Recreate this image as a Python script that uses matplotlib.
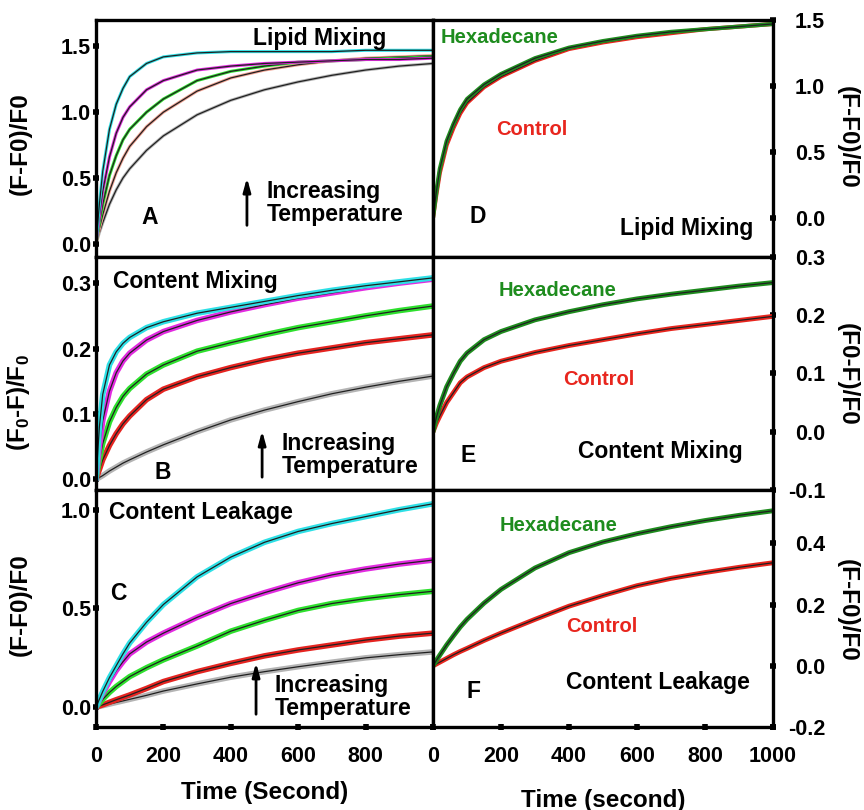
import matplotlib
matplotlib.use("Agg")
import matplotlib.pyplot as plt

plt.rcParams['font.family'] = ['Liberation Sans', 'DejaVu Sans']
plt.rcParams['font.weight'] = 'bold'
plt.rcParams['mathtext.fontset'] = 'custom'
plt.rcParams['mathtext.rm'] = 'Liberation Sans:bold'
plt.rcParams['mathtext.bf'] = 'Liberation Sans:bold'

# time points (s)
t = [0, 10, 20, 40, 60, 80, 100, 150, 200, 300, 400, 500, 600, 700, 800, 900, 1000]

# panel A: lipid mixing vs temperature
a_cyan = [0, 0.30, 0.55, 0.87, 1.06, 1.18, 1.27, 1.37, 1.42, 1.45, 1.46, 1.46, 1.46, 1.46, 1.47, 1.47, 1.47]
a_mag = [0, 0.21, 0.40, 0.66, 0.84, 0.96, 1.04, 1.17, 1.24, 1.32, 1.35, 1.37, 1.38, 1.39, 1.40, 1.40, 1.41]
a_grn = [0, 0.16, 0.30, 0.52, 0.67, 0.79, 0.87, 1.00, 1.10, 1.24, 1.31, 1.35, 1.38, 1.39, 1.40, 1.41, 1.42]
a_red = [0, 0.115, 0.22, 0.40, 0.54, 0.65, 0.74, 0.89, 1.00, 1.16, 1.26, 1.32, 1.36, 1.39, 1.41, 1.42, 1.43]
a_gry = [0, 0.085, 0.16, 0.30, 0.41, 0.50, 0.57, 0.71, 0.82, 0.98, 1.09, 1.17, 1.23, 1.28, 1.32, 1.35, 1.37]

# panel B: content mixing vs temperature
b_cyan = [0, 0.08, 0.13, 0.175, 0.195, 0.208, 0.217, 0.232, 0.241, 0.254, 0.263, 0.272, 0.281, 0.289, 0.296, 0.302, 0.308]
b_mag = [0, 0.05, 0.09, 0.135, 0.163, 0.181, 0.193, 0.213, 0.226, 0.243, 0.256, 0.267, 0.277, 0.285, 0.293, 0.300, 0.306]
b_grn = [0, 0.03, 0.055, 0.088, 0.11, 0.127, 0.139, 0.161, 0.175, 0.196, 0.209, 0.221, 0.232, 0.241, 0.25, 0.258, 0.265]
b_red = [0, 0.015, 0.03, 0.052, 0.07, 0.085, 0.097, 0.122, 0.138, 0.157, 0.171, 0.183, 0.193, 0.201, 0.209, 0.215, 0.221]
b_gry = [0, 0.003, 0.006, 0.013, 0.019, 0.025, 0.03, 0.042, 0.053, 0.073, 0.091, 0.106, 0.119, 0.131, 0.141, 0.150, 0.158]

# panel C: content leakage vs temperature
c_cyan = [0, 0.04, 0.08, 0.15, 0.21, 0.27, 0.325, 0.43, 0.52, 0.66, 0.76, 0.835, 0.89, 0.93, 0.965, 1.0, 1.03]
c_mag = [0, 0.036, 0.07, 0.13, 0.185, 0.23, 0.27, 0.33, 0.375, 0.455, 0.525, 0.58, 0.63, 0.67, 0.70, 0.725, 0.745]
c_grn = [0, 0.02, 0.04, 0.075, 0.105, 0.13, 0.155, 0.2, 0.24, 0.31, 0.385, 0.44, 0.49, 0.525, 0.55, 0.57, 0.587]
c_red = [0, 0.006, 0.012, 0.025, 0.038, 0.05, 0.062, 0.095, 0.13, 0.18, 0.222, 0.26, 0.29, 0.315, 0.34, 0.36, 0.375]
c_gry = [0, 0.004, 0.008, 0.016, 0.024, 0.032, 0.04, 0.06, 0.082, 0.118, 0.152, 0.18, 0.205, 0.228, 0.25, 0.266, 0.28]

# panels D-F: hexadecane vs control
d_hex = [0, 0.20, 0.37, 0.58, 0.71, 0.82, 0.90, 1.01, 1.09, 1.21, 1.29, 1.34, 1.38, 1.41, 1.43, 1.45, 1.47]
d_ctl = [0, 0.18, 0.34, 0.55, 0.68, 0.79, 0.87, 0.99, 1.07, 1.19, 1.28, 1.33, 1.37, 1.40, 1.43, 1.45, 1.47]
e_hex = [0, 0.025, 0.045, 0.077, 0.1, 0.121, 0.135, 0.158, 0.172, 0.192, 0.206, 0.218, 0.228, 0.236, 0.243, 0.25, 0.256]
e_ctl = [0, 0.015, 0.027, 0.05, 0.067, 0.084, 0.094, 0.11, 0.121, 0.136, 0.148, 0.158, 0.168, 0.177, 0.184, 0.191, 0.198]
f_hex = [0, 0.018, 0.035, 0.068, 0.098, 0.127, 0.152, 0.205, 0.25, 0.32, 0.37, 0.405, 0.432, 0.455, 0.475, 0.492, 0.507]
f_ctl = [0, 0.006, 0.012, 0.024, 0.036, 0.047, 0.057, 0.083, 0.107, 0.152, 0.195, 0.23, 0.262, 0.286, 0.305, 0.322, 0.337]

CY, MG, GR, RD, GY = '#2ee0e6', '#e22be0', '#2ee02e', '#e52420', '#b4b4b4'
HX, CT = '#1e8c1e', '#e8261e'

fig = plt.figure(figsize=(8.64, 8.10), dpi=100)
L, R = [0.1111, 0.390], [0.5012, 0.3935]
rows = [[0.6827, 0.2926], [0.3951, 0.2877], [0.1025, 0.2926]]
axA = fig.add_axes([L[0], rows[0][0], L[1], rows[0][1]])
axB = fig.add_axes([L[0], rows[1][0], L[1], rows[1][1]])
axC = fig.add_axes([L[0], rows[2][0], L[1], rows[2][1]])
axD = fig.add_axes([R[0], rows[0][0], R[1], rows[0][1]])
axE = fig.add_axes([R[0], rows[1][0], R[1], rows[1][1]])
axF = fig.add_axes([R[0], rows[2][0], R[1], rows[2][1]])


def curves(ax, ys, cols, lw):
    for y, c in zip(ys, cols):
        ax.plot(t, y, color=c, lw=lw, solid_capstyle='round')
        ax.plot(t, y, color='#202020', lw=0.9)


curves(axA, [a_gry, a_red, a_grn, a_mag, a_cyan], [GY, '#f0a090', GR, MG, CY], 2.2)
curves(axB, [b_gry, b_red, b_grn, b_mag, b_cyan], [GY, RD, GR, MG, CY], 4)
curves(axC, [c_gry, c_red, c_grn, c_mag, c_cyan], [GY, RD, GR, MG, CY], 4)
curves(axD, [d_ctl, d_hex], [CT, HX], 3)
curves(axE, [e_ctl, e_hex], [CT, HX], 3.5)
curves(axF, [f_ctl, f_hex], [CT, HX], 3.5)

lims = {axA: (-0.1, 1.7), axB: (-0.016, 0.34), axC: (-0.1, 1.1),
        axD: (-0.3, 1.5), axE: (-0.1, 0.3), axF: (-0.2, 0.575)}
yt = {axA: [0, 0.5, 1.0, 1.5], axB: [0, 0.1, 0.2, 0.3], axC: [0, 0.5, 1.0],
      axD: [0, 0.5, 1.0, 1.5], axE: [-0.1, 0, 0.1, 0.2, 0.3], axF: [-0.2, 0, 0.2, 0.4]}

for ax in lims:
    ax.set_xlim(0, 1000)
    ax.set_ylim(*lims[ax])
    ax.set_yticks(yt[ax])
    ax.set_yticklabels(['%.1f' % v for v in yt[ax]])
    for s in ax.spines.values():
        s.set_linewidth(2.4)
    ax.tick_params(direction='inout', length=5, width=4, labelsize=15.5)
    ax.tick_params(axis='y', pad=1)
    ax.tick_params(axis='x', pad=11)
    ax.set_xticks([0, 200, 400, 600, 800, 1000])
    if ax not in (axC, axF):
        ax.tick_params(axis='x', bottom=False, labelbottom=False)
    for lab in ax.get_xticklabels() + ax.get_yticklabels():
        lab.set_fontweight('bold')

axC.set_xticklabels(['0', '200', '400', '600', '800', ''])
axF.set_xticklabels(['0', '200', '400', '600', '800', '1000'])
for ax in (axD, axE, axF):
    ax.yaxis.tick_right()
    ax.tick_params(axis='y', pad=35)
    for lab in ax.get_yticklabels():
        lab.set_horizontalalignment('right')

lkw = dict(fontsize=17.5, fontweight='bold')
axA.set_ylabel('(F-F0)/F0', **lkw)
axB.set_ylabel(r'(F$_{\mathbf{0}}$-F)/F$_{\mathbf{0}}$', **lkw)
axC.set_ylabel('(F-F0)/F0', **lkw)
axA.yaxis.set_label_coords(-0.19, 0.48)
axB.yaxis.set_label_coords(-0.19, 0.373)
axC.yaxis.set_label_coords(-0.19, 0.515)
for ax, s, yc in ((axD, '(F-F0)/F0', 0.506), (axE, '(F0-F)/F0', 0.494), (axF, '(F-F0)/F0', 0.49)):
    ax.yaxis.set_label_position('right')
    ax.set_ylabel(s, rotation=270, va='center', **lkw)
    ax.yaxis.set_label_coords(1.218, yc)

fig.text(265 / 864, 1 - 793 / 810, 'Time (Second)', ha='center', va='center', **lkw)
fig.text(603 / 864, 1 - 800 / 810, 'Time (second)', ha='center', va='center', **lkw)

tk = dict(fontsize=16.5, fontweight='bold', ha='center', va='center')


def note(ax, x, y, s, color='black', **kw):
    d = dict(tk)
    d.update(kw)
    ax.text(x, y, s, transform=ax.transAxes, color=color, **d)


def arrow(ax, x, y0, y1):
    ax.annotate('', xy=(x, y1), xytext=(x, y0), xycoords='axes fraction',
                arrowprops=dict(arrowstyle='-|>,head_width=0.22,head_length=0.8',
                                color='black', lw=2))


note(axA, 0.665, 0.924, 'Lipid Mixing')
note(axA, 0.16, 0.165, 'A')
note(axA, 0.507, 0.228, 'Increasing\nTemperature', ha='left', linespacing=1.0)
arrow(axA, 0.448, 0.122, 0.346)

note(axB, 0.294, 0.893, 'Content Mixing')
note(axB, 0.199, 0.077, 'B')
note(axB, 0.552, 0.15, 'Increasing\nTemperature', ha='left', linespacing=1.0)
arrow(axB, 0.493, 0.043, 0.266)

note(axC, 0.311, 0.903, 'Content Leakage')
note(axC, 0.066, 0.565, 'C')
note(axC, 0.531, 0.126, 'Increasing\nTemperature', ha='left', linespacing=1.0)
arrow(axC, 0.475, 0.042, 0.283)

sk = dict(fontsize=14.5)
note(axD, 0.197, 0.928, 'Hexadecane', HX, **sk)
note(axD, 0.291, 0.536, 'Control', CT, **sk)
note(axD, 0.132, 0.173, 'D')
note(axD, 0.747, 0.122, 'Lipid Mixing')

note(axE, 0.365, 0.858, 'Hexadecane', HX, **sk)
note(axE, 0.486, 0.472, 'Control', CT, **sk)
note(axE, 0.103, 0.146, 'E')
note(axE, 0.668, 0.163, 'Content Mixing')

note(axF, 0.368, 0.852, 'Hexadecane', HX, **sk)
note(axF, 0.497, 0.422, 'Control', CT, **sk)
note(axF, 0.118, 0.148, 'F')
note(axF, 0.662, 0.186, 'Content Leakage')

fig.savefig('out.png', dpi=100)
